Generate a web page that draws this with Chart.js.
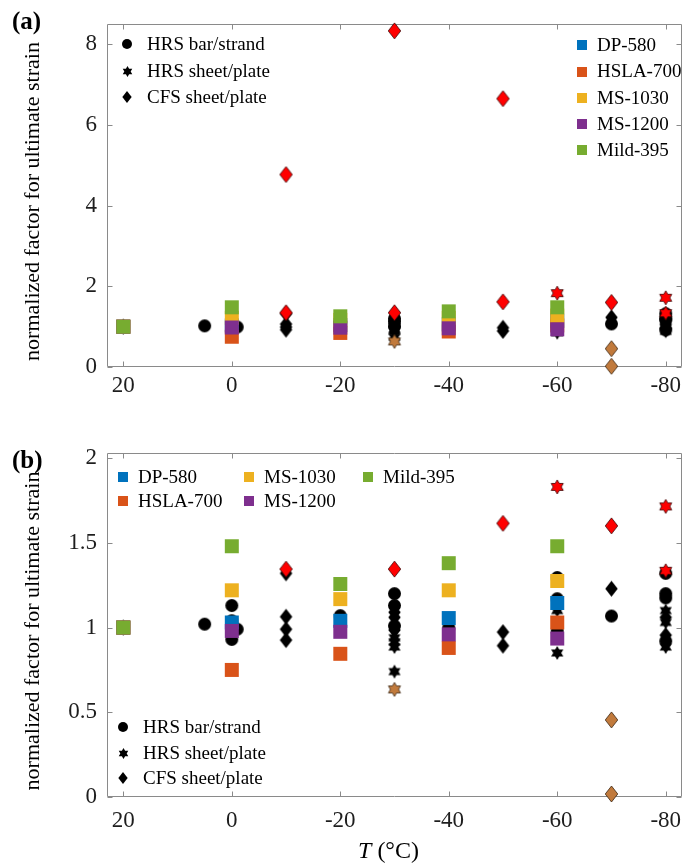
<!DOCTYPE html>
<html>
<head>
<meta charset="utf-8">
<script src="https://cdn.jsdelivr.net/npm/chart.js@4.4.1/dist/chart.umd.min.js"></script>
<style>
  html, body { margin: 0; padding: 0; background: #fff; }
  #wrap { position: relative; width: 691px; height: 863px; }
  .panel { position: absolute; left: 0; width: 691px; }
  #panelA { top: 0; height: 430px; }
  #panelB { top: 430px; height: 433px; }
</style>
</head>
<body>
<div id="wrap">
  <div class="panel" id="panelA"><canvas id="chartA"></canvas></div>
  <div class="panel" id="panelB"><canvas id="chartB"></canvas></div>
</div>
<script>
// axis ticks
const xTicks  = [20, 0, -20, -40, -60, -80];
const yTicksA = [0, 2, 4, 6, 8];
const yTicksB = [0, 0.5, 1, 1.5, 2];

// HRS bar/strand (black circles)
const hrsBarT   = [20, 5, 0, 0, 0, -1, -20, -30, -30, -30, -40, -60, -60, -60, -70, -80, -80, -80, -80];
const hrsBarVal = [1.0, 1.02, 1.13, 1.04, 0.93, 0.99, 1.07, 1.20, 1.13, 1.01, 1.00, 1.295, 1.17, 0.98, 1.068, 1.32, 1.20, 1.175, 0.92];

// HRS sheet/plate (black hexagrams)
const hrsSheetT   = [20, -30, -30, -30, -30, -60, -60, -80, -80, -80];
const hrsSheetVal = [1.0, 0.94, 0.915, 0.885, 0.74, 1.10, 0.85, 1.10, 1.03, 0.885];

// CFS sheet/plate (black diamonds)
const cfsSheetT   = [20, -10, -10, -10, -10, -30, -30, -30, -50, -50, -70, -80, -80];
const cfsSheetVal = [1.0, 1.32, 1.064, 0.99, 0.926, 1.09, 1.06, 0.985, 0.973, 0.893, 1.229, 1.06, 0.955];

// highlighted points
const redDiamondT     = [-10, -10, -30, -30, -50, -50, -70];
const redDiamondVal   = [1.345, 4.77, 1.345, 8.33, 1.615, 6.65, 1.60];
const redStarT        = [-60, -80, -80];
const redStarVal      = [1.83, 1.715, 1.335];
const brownStarT      = [-30];
const brownStarVal    = [0.635];
const brownDiamondT   = [-70, -70];
const brownDiamondVal = [0.455, 0.018];

// steel grades
const gradeT     = [20, 0, -20, -40, -60];
const dp580Val   = [1.0, 1.03, 1.04, 1.056, 1.145];
const hsla700Val = [1.0, 0.75, 0.845, 0.88, 1.03];
const ms1030Val  = [1.0, 1.22, 1.168, 1.22, 1.275];
const ms1200Val  = [1.0, 0.98, 0.975, 0.96, 0.935];
const mild395Val = [1.0, 1.48, 1.257, 1.38, 1.48];

const gradeNames  = ['DP-580', 'HSLA-700', 'MS-1030', 'MS-1200', 'Mild-395'];
const gradeColors = ['#0072BD', '#D95319', '#EDB120', '#7E2F8E', '#77AC30'];
const shapeNames  = ['HRS bar/strand', 'HRS sheet/plate', 'CFS sheet/plate'];

const SERIF = "'Liberation Serif', 'Times New Roman', serif";
const axisGray = '#8a8a8a';
const tickColor = '#1e1e1e';

Chart.defaults.font.family = SERIF;

// small canvases used as point styles
function marker(shape, size, fill, edge) {
  const c = document.createElement('canvas');
  const w = shape === 'diamond' ? Math.round(size * 0.8) + 2 : size + 2;
  const h = size + 2;
  c.width = w; c.height = h;
  const g = c.getContext('2d');
  const cx = w / 2, cy = h / 2, r = size / 2;
  g.beginPath();
  if (shape === 'circle') {
    g.arc(cx, cy, r, 0, Math.PI * 2);
  } else if (shape === 'square') {
    g.rect(cx - r, cy - r, size, size);
  } else if (shape === 'diamond') {
    const hw = size * 0.39;
    g.moveTo(cx, cy - r); g.lineTo(cx + hw, cy); g.lineTo(cx, cy + r); g.lineTo(cx - hw, cy);
    g.closePath();
  } else if (shape === 'hexagram') {
    for (let k = 0; k < 12; k++) {
      const a = -Math.PI / 2 + k * Math.PI / 6;
      const rr = k % 2 ? r / Math.sqrt(3) : r;
      const px = cx + rr * Math.cos(a), py = cy + rr * Math.sin(a);
      if (k === 0) g.moveTo(px, py); else g.lineTo(px, py);
    }
    g.closePath();
  }
  g.fillStyle = fill;
  g.fill();
  if (edge) { g.lineWidth = 0.8; g.strokeStyle = edge; g.stroke(); }
  return c;
}

const mk = {
  circle:       marker('circle', 13, '#000'),
  star:         marker('hexagram', 14, '#000'),
  diamond:      marker('diamond', 16, '#000'),
  redDiamond:   marker('diamond', 16, '#ff0000', '#3a0000'),
  redStar:      marker('hexagram', 14, '#ff0000', '#3a0000'),
  brownDiamond: marker('diamond', 16, '#c17a3c', '#3a2410'),
  brownStar:    marker('hexagram', 14, '#c17a3c', '#3a2410'),
  squares:      gradeColors.map(col => marker('square', 14, col))
};
const legendShapes = [marker('circle', 10, '#000'), marker('hexagram', 11, '#000'), marker('diamond', 12, '#000')];
const legendSquares = gradeColors.map(col => marker('square', 10, col));

function pts(ts, vals) {
  return ts.map((t, i) => ({ x: t, y: vals[i] }));
}

function series(ts, vals, img) {
  return {
    data: pts(ts, vals),
    pointStyle: img,
    pointRadius: 8,
    pointHoverRadius: 8,
    clip: false
  };
}

// first dataset ends up on top
function makeDatasets() {
  const gradeVals = [dp580Val, hsla700Val, ms1030Val, ms1200Val, mild395Val];
  const squares = gradeVals.map((v, i) => series(gradeT, v, mk.squares[i])).reverse();
  return squares.concat([
    series(redStarT, redStarVal, mk.redStar),
    series(redDiamondT, redDiamondVal, mk.redDiamond),
    series(brownStarT, brownStarVal, mk.brownStar),
    series(brownDiamondT, brownDiamondVal, mk.brownDiamond),
    series(hrsSheetT, hrsSheetVal, mk.star),
    series(cfsSheetT, cfsSheetVal, mk.diamond),
    series(hrsBarT, hrsBarVal, mk.circle)
  ]);
}

function drawImg(ctx, img, x, y) {
  ctx.drawImage(img, Math.round(x - img.width / 2), Math.round(y - img.height / 2));
}

function decorPlugin(spec, yTicks) {
  return {
    id: 'decor',
    beforeDatasetsDraw(chart) {
      const ctx = chart.ctx, a = chart.chartArea;
      const xs = chart.scales.x, ys = chart.scales.y;
      const L = Math.round(a.left) + 0.5, R = Math.round(a.right) - 0.5;
      const T = Math.round(a.top) + 0.5, B = Math.round(a.bottom) - 0.5;
      ctx.save();
      ctx.strokeStyle = axisGray;
      ctx.lineWidth = 1;
      ctx.beginPath();
      ctx.rect(L, T, R - L, B - T);
      xTicks.forEach(v => {
        const px = Math.round(xs.getPixelForValue(v)) + 0.5;
        ctx.moveTo(px, B); ctx.lineTo(px, B - 5);
        ctx.moveTo(px, T); ctx.lineTo(px, T + 5);
      });
      yTicks.forEach(v => {
        const py = Math.round(ys.getPixelForValue(v)) + 0.5;
        ctx.moveTo(L, py); ctx.lineTo(L + 5, py);
        ctx.moveTo(R, py); ctx.lineTo(R - 5, py);
      });
      ctx.stroke();
      ctx.restore();
    },
    afterDraw(chart) {
      const ctx = chart.ctx, a = chart.chartArea;
      ctx.save();
      ctx.fillStyle = '#000';

      // y axis title, rotated
      ctx.save();
      ctx.translate(33, (a.top + a.bottom) / 2 + 6);
      ctx.rotate(-Math.PI / 2);
      ctx.font = '22px ' + SERIF;
      ctx.textAlign = 'center';
      ctx.textBaseline = 'middle';
      ctx.fillText('normalized factor for ultimate strain', 0, 0);
      ctx.restore();

      // panel letter
      ctx.font = 'bold 25px ' + SERIF;
      ctx.textBaseline = 'alphabetic';
      ctx.fillText(spec.letter, 12, spec.letterY);

      ctx.font = '19px ' + SERIF;
      ctx.textBaseline = 'middle';
      spec.shapeLegend.rows.forEach((y, i) => {
        drawImg(ctx, legendShapes[i], spec.shapeLegend.mx, y);
        ctx.fillText(shapeNames[i], spec.shapeLegend.tx, y + 1);
      });
      spec.gradeLegend.forEach((p, i) => {
        drawImg(ctx, legendSquares[i], p[0], p[1]);
        ctx.fillText(gradeNames[i], p[0] + 15, p[1] + 1);
      });

      if (spec.xTitle) {
        ctx.textBaseline = 'alphabetic';
        ctx.font = 'italic 24px ' + SERIF;
        const tw = ctx.measureText('T').width;
        ctx.font = '24px ' + SERIF;
        const rw = ctx.measureText(' (°C)').width;
        const x0 = (a.left + a.right) / 2 - (tw + rw) / 2 - 6;
        ctx.font = 'italic 24px ' + SERIF;
        ctx.fillText('T', x0, spec.xTitleY);
        ctx.font = '24px ' + SERIF;
        ctx.fillText(' (°C)', x0 + tw, spec.xTitleY);
      }
      ctx.restore();
    }
  };
}

function buildChart(canvasId, yMax, yTicks, spec) {
  return new Chart(document.getElementById(canvasId), {
    type: 'scatter',
    data: { datasets: makeDatasets() },
    options: {
      responsive: true,
      maintainAspectRatio: false,
      animation: false,
      devicePixelRatio: 1,
      layout: { padding: { top: spec.top, right: 3, left: 0, bottom: 0 } },
      plugins: { legend: { display: false }, tooltip: { enabled: false } },
      scales: {
        x: {
          type: 'linear',
          min: -83,
          max: 23,
          reverse: true,
          grid: { display: false, drawTicks: false },
          border: { display: false },
          afterBuildTicks: s => { s.ticks = xTicks.map(v => ({ value: v })); },
          afterFit: s => { s.height = spec.xHeight; s.paddingLeft = 0; s.paddingRight = 0; },
          ticks: {
            font: { size: 23 },
            color: tickColor,
            padding: spec.xPad,
            maxRotation: 0,
            autoSkip: false,
            callback: v => String(v)
          }
        },
        y: {
          type: 'linear',
          min: 0,
          max: yMax,
          grid: { display: false, drawTicks: false },
          border: { display: false },
          afterBuildTicks: s => { s.ticks = yTicks.map(v => ({ value: v })); },
          afterFit: s => { s.width = 107; s.paddingTop = 0; s.paddingBottom = 0; },
          ticks: {
            font: { size: 23 },
            color: tickColor,
            padding: 10,
            autoSkip: false,
            callback: v => String(v)
          }
        }
      }
    },
    plugins: [decorPlugin(spec, yTicks)]
  });
}

buildChart('chartA', 8.5, yTicksA, {
  top: 24, xHeight: 63, xPad: 5,
  letter: '(a)', letterY: 29,
  shapeLegend: { mx: 127, tx: 147, rows: [44, 71, 97] },
  gradeLegend: [[582, 45], [582, 71.5], [582, 98], [582, 124], [582, 150]]
});

buildChart('chartB', 2.03, yTicksB, {
  top: 23, xHeight: 66, xPad: 10,
  letter: '(b)', letterY: 38,
  shapeLegend: { mx: 123, tx: 143, rows: [297, 323, 348] },
  gradeLegend: [[123, 47], [123, 71], [249, 47], [249, 71], [368, 47]],
  xTitle: true, xTitleY: 428
});
</script>
</body>
</html>
